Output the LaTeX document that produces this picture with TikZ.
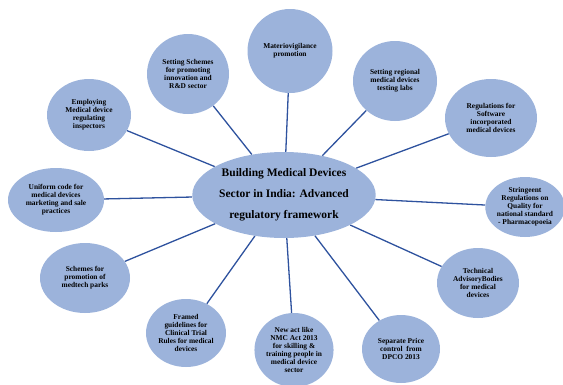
\documentclass[tikz,border=0pt]{standalone}
\usepackage{fontspec}
\setmainfont{Liberation Serif}
\usepackage{xcolor}
\usetikzlibrary{%
  shapes.geometric,
  backgrounds
}
\definecolor{bubblefill}{RGB}{156,179,219}
\definecolor{linkblue}{RGB}{46,82,158}

\begin{document}
\begin{tikzpicture}[x=1pt,y=-1pt,
    bubble/.style={ellipse,fill=bubblefill,inner sep=0pt,align=center,
      font=\fontsize{7.4}{8}\selectfont\bfseries},
    link/.style={linkblue,line width=1.3pt}]
    \useasboundingbox (0,0) rectangle (563,384);
    % hub
    \node[bubble,minimum width=152pt,minimum height=86pt,
      font=\fontsize{11.5}{21}\selectfont\bfseries] (hub) at (284,195)
      {Building Medical Devices\\Sector in India: Advanced\\regulatory framework};
    % outer ring, clockwise from the top
    \node[bubble,minimum width=85pt,minimum height=84pt] (mat) at (290,51)
      {Materiovigilance\\promotion};
    \node[bubble,minimum width=84pt,minimum height=80pt] (lab) at (395,81)
      {Setting regional\\medical devices\\testing labs};
    \node[bubble,minimum width=92pt,minimum height=78pt] (sw) at (491,118)
      {Regulations for\\Software\\incorporated\\medical devices};
    \node[bubble,minimum width=77pt,minimum height=60pt] (std) at (525,207)
      {Stringeent\\Regulations on\\Quality for\\national standard\\- Pharmacopoeia};
    \node[bubble,minimum width=82pt,minimum height=70pt] (tab) at (478,283)
      {Technical\\AdvisoryBodies\\for medical\\devices};
    \node[bubble,minimum width=78pt,minimum height=68pt] (dpc) at (401,349)
      {Separate Price\\control\ \ from\\DPCO 2013};
    \node[bubble,minimum width=76pt,minimum height=74pt] (nmc) at (294,350)
      {New act like\\NMC Act 2013\\for skilling \&\\training people in\\medical device\\sector};
    \node[bubble,minimum width=80pt,minimum height=68pt] (clin) at (186,333)
      {Framed\\guidelines for\\Clinical Trial\\Rules for medical\\devices};
    \node[bubble,minimum width=90pt,minimum height=70pt] (park) at (85,278)
      {Schemes for\\promotion of\\medtech parks};
    \node[bubble,minimum width=96pt,minimum height=64pt] (code) at (56,200)
      {Uniform code for\\medical devices\\marketing and sale\\practices};
    \node[bubble,minimum width=84pt,minimum height=72pt] (insp) at (89,115)
      {Employing\\Medical device\\regulating\\inspectors};
    \node[bubble,minimum width=82pt,minimum height=80pt] (sch) at (188,74)
      {Setting Schemes\\for promoting\\innovation and\\R\&D sector};
    % spokes
    \begin{scope}[on background layer]
      \foreach \n in {mat,lab,sw,std,tab,dpc,nmc,clin,park,code,insp,sch}
        \draw[link] (hub) -- (\n);
    \end{scope}
  \end{tikzpicture}
\end{document}
